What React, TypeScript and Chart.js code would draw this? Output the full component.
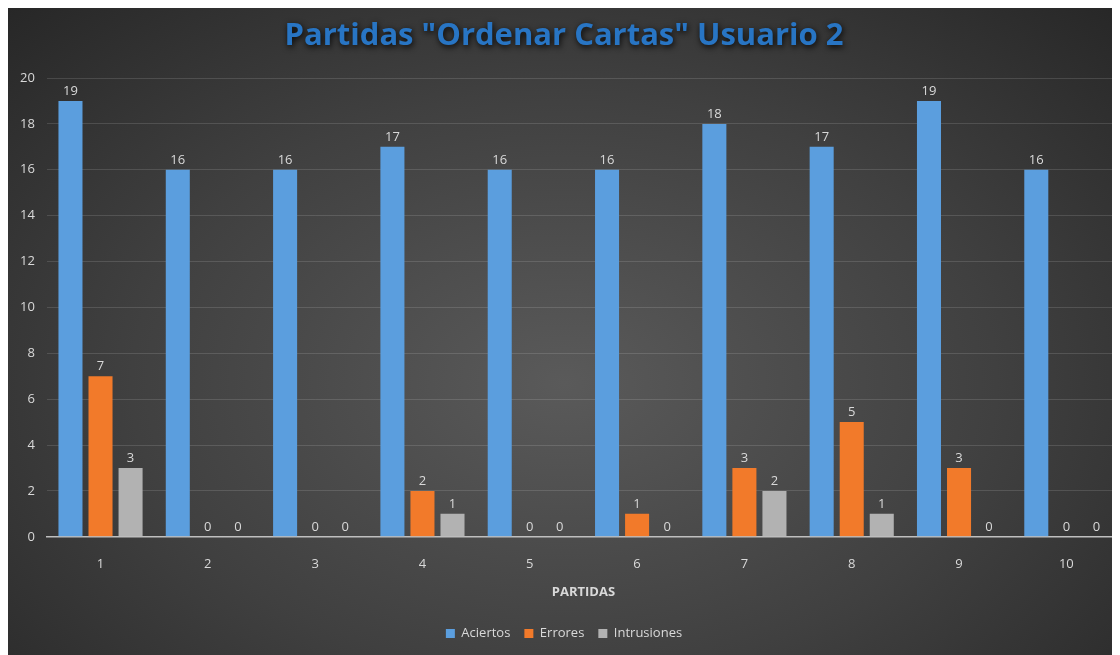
import React, { useEffect, useRef } from "react";
import { Chart, registerables } from "chart.js";

Chart.register(...registerables);

const categories = ["1", "2", "3", "4", "5", "6", "7", "8", "9", "10"];
const aciertos = [19, 16, 16, 17, 16, 16, 18, 17, 19, 16];
const errores = [7, 0, 0, 2, 0, 1, 3, 5, 3, 0];
const intrusiones = [3, 0, 0, 1, 0, 0, 2, 1, 0, 0];
const seriesNames = ["Aciertos", "Errores", "Intrusiones"];
const titleText = 'Partidas "Ordenar Cartas" Usuario 2';
const xTitle = "PARTIDAS";
const yMax = 20;
const yStep = 2;

const FONT = "'Open Sans', 'DejaVu Sans', sans-serif";
const TEXT = "#d9d9d9";

const labelPlugin = {
  id: "valueLabels",
  afterDatasetsDraw(chart: any) {
    const ctx = chart.ctx;
    ctx.save();
    ctx.font = `13px ${FONT}`;
    ctx.fillStyle = TEXT;
    ctx.textAlign = "center";
    ctx.textBaseline = "bottom";
    chart.data.datasets.forEach((ds: any, i: number) => {
      const meta = chart.getDatasetMeta(i);
      meta.data.forEach((el: any, j: number) => {
        ctx.fillText(String(ds.data[j]), el.x, el.y - 3);
      });
    });
    ctx.restore();
  },
};

const titlePlugin = {
  id: "glowTitle",
  afterDraw(chart: any) {
    const ctx = chart.ctx;
    ctx.save();
    ctx.font = `bold 31px ${FONT}`;
    ctx.textAlign = "center";
    ctx.textBaseline = "middle";
    ctx.shadowColor = "rgba(0,0,0,0.9)";
    ctx.shadowBlur = 6;
    ctx.shadowOffsetX = 1;
    ctx.shadowOffsetY = 2;
    ctx.fillStyle = "#2875c4";
    ctx.fillText(titleText, chart.width / 2, 28);
    ctx.restore();
  },
};

export default function App() {
  const ref = useRef<HTMLCanvasElement>(null);
  useEffect(() => {
    if (!ref.current) return;
    const chart = new Chart(ref.current, {
      type: "bar",
      data: {
        labels: categories,
        datasets: [
          { label: seriesNames[0], data: aciertos, backgroundColor: "#5B9EDE" },
          { label: seriesNames[1], data: errores, backgroundColor: "#F27A2A" },
          { label: seriesNames[2], data: intrusiones, backgroundColor: "#B2B2B2" },
        ],
      },
      options: {
        responsive: false,
        animation: false,
        layout: { padding: { top: 70, left: 0, right: 0, bottom: 5 } },
        datasets: {
          bar: { categoryPercentage: 0.84, barPercentage: 0.8 },
        },
        plugins: {
          legend: {
            position: "bottom",
            labels: {
              color: TEXT,
              font: { size: 13, family: FONT },
              boxWidth: 9,
              boxHeight: 9,
              padding: 14,
            },
          },
          tooltip: { enabled: false },
          title: { display: false },
        },
        scales: {
          x: {
            grid: { display: false, drawTicks: false },
            border: { display: true, color: "#bfbfbf", width: 1.5 },
            ticks: { color: TEXT, font: { size: 13, family: FONT }, padding: 20 },
            title: {
              display: true,
              text: xTitle,
              color: TEXT,
              font: { size: 13, weight: "bold", family: FONT },
              padding: { top: -8, bottom: 13 },
            },
          },
          y: {
            min: 0,
            max: yMax,
            grid: { color: "rgba(255,255,255,0.13)", drawTicks: false },
            border: { display: false },
            ticks: {
              stepSize: yStep,
              color: TEXT,
              font: { size: 13, family: FONT },
              padding: 12,
            },
          },
        },
      },
      plugins: [labelPlugin, titlePlugin],
    });
    return () => chart.destroy();
  }, []);

  return (
    <div
      style={{
        width: 1112,
        height: 647,
        background:
          "radial-gradient(ellipse at 50% 58%, #5a5a5a 0%, #404040 55%, #272727 100%)",
      }}
    >
      <canvas ref={ref} width={1112} height={647} style={{ display: "block" }} />
    </div>
  );
}
